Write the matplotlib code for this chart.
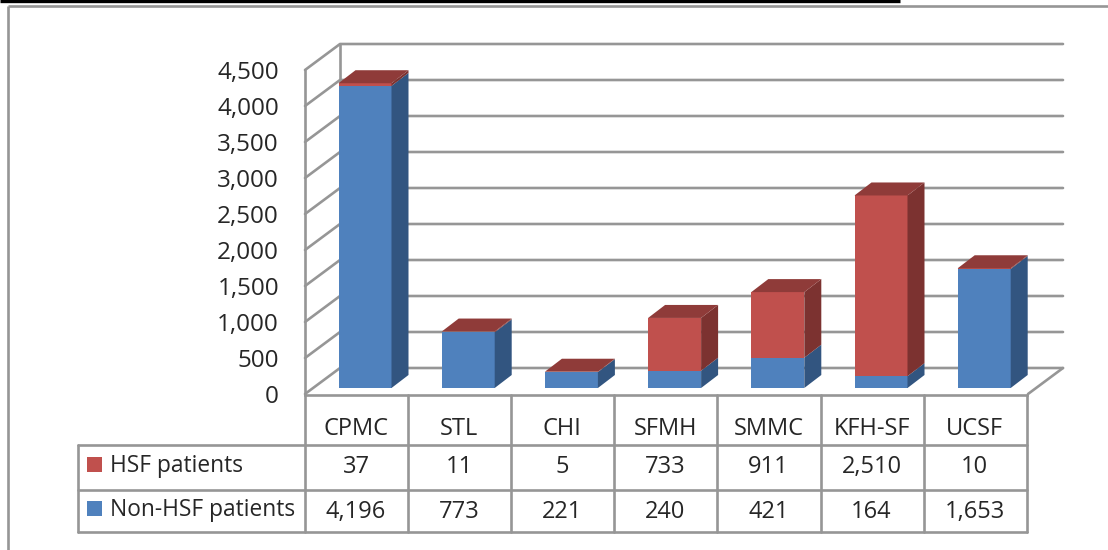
import matplotlib.pyplot as plt
from matplotlib.patches import Rectangle

plt.rcParams['font.family'] = ['Open Sans', 'DejaVu Sans']

hospitals = ['CPMC', 'STL', 'CHI', 'SFMH', 'SMMC', 'KFH-SF', 'UCSF']
hsf = [37, 11, 5, 733, 911, 2510, 10]
non_hsf = [4196, 773, 221, 240, 421, 164, 1653]
y_ticks = [0, 500, 1000, 1500, 2000, 2500, 3000, 3500, 4000, 4500]

BLUE, BLUE_SIDE = '#4f81bd', '#325580'
RED, RED_SIDE, RED_TOP = '#c0504d', '#7c3230', '#8f3b39'
LINE = '#969696'
TEXT = '#262626'

W, H = 1108, 550
PX_Y = 0.072        # pixels per patient
PX_X = 103.2        # pixels per category
X0 = 365.0          # pixel centre of the first bar

fig = plt.figure(figsize=(W / 100, H / 100), dpi=100)

# pixel overlay for the frame and the data table
pix = fig.add_axes([0, 0, 1, 1], zorder=2)
pix.set_xlim(0, W)
pix.set_ylim(H, 0)
pix.axis('off')
pix.patch.set_alpha(0)

# chart axes: x in categories, y in patients, spans the whole figure
ax = fig.add_axes([0, 0, 1, 1], zorder=1)
ax.set_xlim((0 - X0) / PX_X, (W - X0) / PX_X)
ax.set_ylim((388 - H) / PX_Y, 388 / PX_Y)
ax.axis('off')

depth_x, depth_y = 17 / PX_X, 13 / PX_Y
wall_x, wall_y = 35 / PX_X, 26 / PX_Y
left = (305 - X0) / PX_X
right = (1028 - X0) / PX_X
floor = -6 / PX_Y


def line(xs, ys):
    ax.plot(xs, ys, color=LINE, lw=1.9, solid_capstyle='round', zorder=1)


# walls and gridlines
for v in y_ticks:
    y = v + floor
    line([left, left + wall_x, right + wall_x], [y, y + wall_y, y + wall_y])
    ax.text((279 - X0) / PX_X, y - 3 / PX_Y, f'{v:,}', ha='right', va='center',
            fontsize=17.5, color=TEXT)
line([left, left], [floor, y_ticks[-1] + floor])
line([left + wall_x, left + wall_x], [floor + wall_y, y_ticks[-1] + floor + wall_y])
line([right, right + wall_x], [floor, floor + wall_y])

# stacked bars, with fake depth
half = 26.5 / PX_X
for i, (a, b) in enumerate(zip(non_hsf, hsf)):
    x0, x1 = i - half, i + half
    ax.bar(i, a, width=2 * half, color=BLUE, zorder=3)
    ax.bar(i, b, width=2 * half, bottom=a, color=RED, zorder=3)
    for low, high, col in [(0, a, BLUE_SIDE), (a, a + b, RED_SIDE)]:
        ax.fill([x1, x1 + depth_x, x1 + depth_x, x1],
                [low, low + depth_y, high + depth_y, high], color=col, lw=0, zorder=3)
    top = a + b
    ax.fill([x0, x1, x1 + depth_x, x0 + depth_x],
            [top, top, top + depth_y, top + depth_y], color=RED_TOP, lw=0, zorder=3)

# data table
col_x = [305 + 103.1 * i for i in range(8)]
row_y = [395, 445, 490, 532]
for x in col_x:
    pix.plot([x, x], [row_y[0], row_y[-1]], color=LINE, lw=1.9, solid_capstyle='round')
pix.plot([78, 78], [row_y[1], row_y[-1]], color=LINE, lw=1.9, solid_capstyle='round')
pix.plot([col_x[0], col_x[-1]], [row_y[0], row_y[0]], color=LINE, lw=1.9)
for y in row_y[1:]:
    pix.plot([78, col_x[-1]], [y, y], color=LINE, lw=1.9, solid_capstyle='round')

for i, name in enumerate(hospitals):
    cx = col_x[i] + 51
    pix.text(cx, 429, name, ha='center', va='center', fontsize=17, color=TEXT)
    pix.text(cx, 467, f'{hsf[i]:,}', ha='center', va='center', fontsize=17, color=TEXT)
    pix.text(cx, 512, f'{non_hsf[i]:,}', ha='center', va='center', fontsize=17, color=TEXT)

for label, col, yc in [('HSF patients', RED, 465), ('Non-HSF patients', BLUE, 509)]:
    pix.add_patch(Rectangle((87, yc - 8), 15, 15, color=col, lw=0))
    pix.text(110, yc + 1, label, ha='left', va='center', fontsize=16.4, color=TEXT)

# page frame and the black rule above it
pix.plot([0, 900], [1, 1], color='black', lw=2.4, solid_capstyle='butt')
pix.plot([8, W], [6, 6], color=LINE, lw=1.9, solid_capstyle='butt')
pix.plot([8, 8], [6, H], color=LINE, lw=1.9, solid_capstyle='butt')

fig.savefig('out.png', dpi=100)
